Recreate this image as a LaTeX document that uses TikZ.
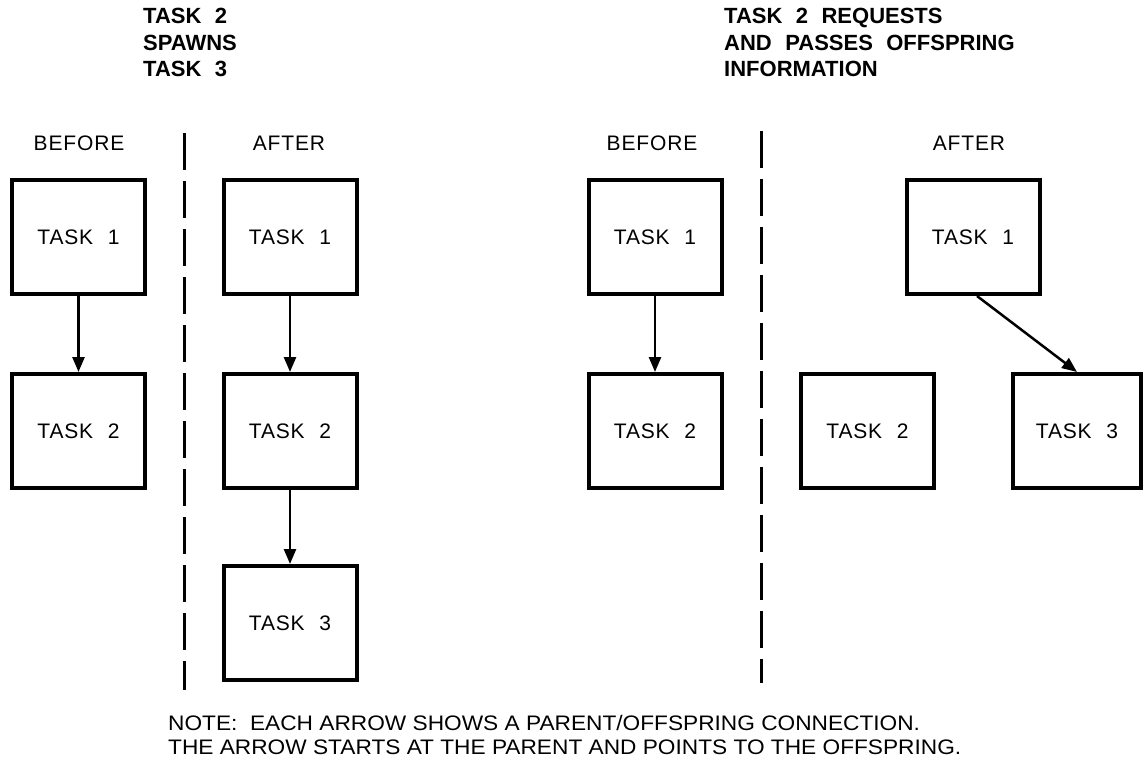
\documentclass[tikz,border=0pt]{standalone}
\usepackage{fontspec}
\setmainfont{Liberation Sans}[WordSpace=2.2]
\newfontfamily\labelfont{Liberation Sans}[WordSpace=2.2, LetterSpace=4]
\newfontfamily\notefont{Liberation Sans}[FakeStretch=1.08]
\usetikzlibrary{arrows.meta}
\begin{document}
\begin{tikzpicture}[x=1pt,y=-1pt,
  task/.style={draw, line width=4pt, minimum width=133pt, minimum height=114pt,
    inner sep=0pt, font=\labelfont\fontsize{21}{25}\selectfont},
  link/.style={line width=2.5pt, -{Triangle[length=15pt,width=12pt]}},
  divider/.style={line width=3pt, dash pattern=on 37pt off 11pt},
  phase/.style={font=\labelfont\fontsize{21}{25}\selectfont, anchor=base, inner sep=0pt},
  title/.style={font=\fontsize{22}{26.5}\selectfont\bfseries, align=left,
    anchor=north west, inner sep=0pt},
  note/.style={font=\notefont\fontsize{21}{24}\selectfont, align=left,
    anchor=north west, inner sep=0pt}]
\useasboundingbox (0,0) rectangle (1144,763);

% ---- left half: spawning ----
\node[title] (titleA) at (143,8) {TASK 2\\SPAWNS\\TASK 3};
\node[phase] (beforeA) at (79,150) {BEFORE};
\node[phase] (afterA) at (289,150) {AFTER};

\node[task] (a1) at (78.5,237) {TASK 1};
\node[task] (a2) at (78.5,431) {TASK 2};
\node[task] (b1) at (290,237) {TASK 1};
\node[task] (b2) at (290,431) {TASK 2};
\node[task] (b3) at (290,623) {TASK 3};

\draw[link] (a1.south) -- (a2.north);
\draw[link] (b1.south) -- (b2.north);
\draw[link] (b2.south) -- (b3.north);

\coordinate (sepAtop) at (184,133);
\coordinate (sepAbot) at (184,690);
\draw[divider] (sepAtop) -- (sepAbot);

% ---- right half: passing offspring ----
\node[title] (titleB) at (724,8) {TASK 2 REQUESTS\\AND PASSES OFFSPRING\\INFORMATION};
\node[phase] (beforeB) at (652,150) {BEFORE};
\node[phase] (afterB) at (969,150) {AFTER};

\node[task] (c1) at (655,237) {TASK 1};
\node[task] (c2) at (655,431) {TASK 2};
\node[task] (d1) at (973,237) {TASK 1};
\node[task] (d2) at (867.5,431) {TASK 2};
\node[task, minimum width=128pt] (d3) at (1077,431) {TASK 3};

\draw[link] (c1.south) -- (c2.north);
\draw[link] ([xshift=4pt]d1.south) -- (d3.north);

\coordinate (sepBtop) at (761,131);
\coordinate (sepBbot) at (761,683);
\draw[divider] (sepBtop) -- (sepBbot);

% ---- footnote ----
\node[note] (legend) at (168,715)
  {NOTE:\ \ EACH ARROW SHOWS A PARENT/OFFSPRING CONNECTION.\\
   THE ARROW STARTS AT THE PARENT AND POINTS TO THE OFFSPRING.};
\end{tikzpicture}
\end{document}
